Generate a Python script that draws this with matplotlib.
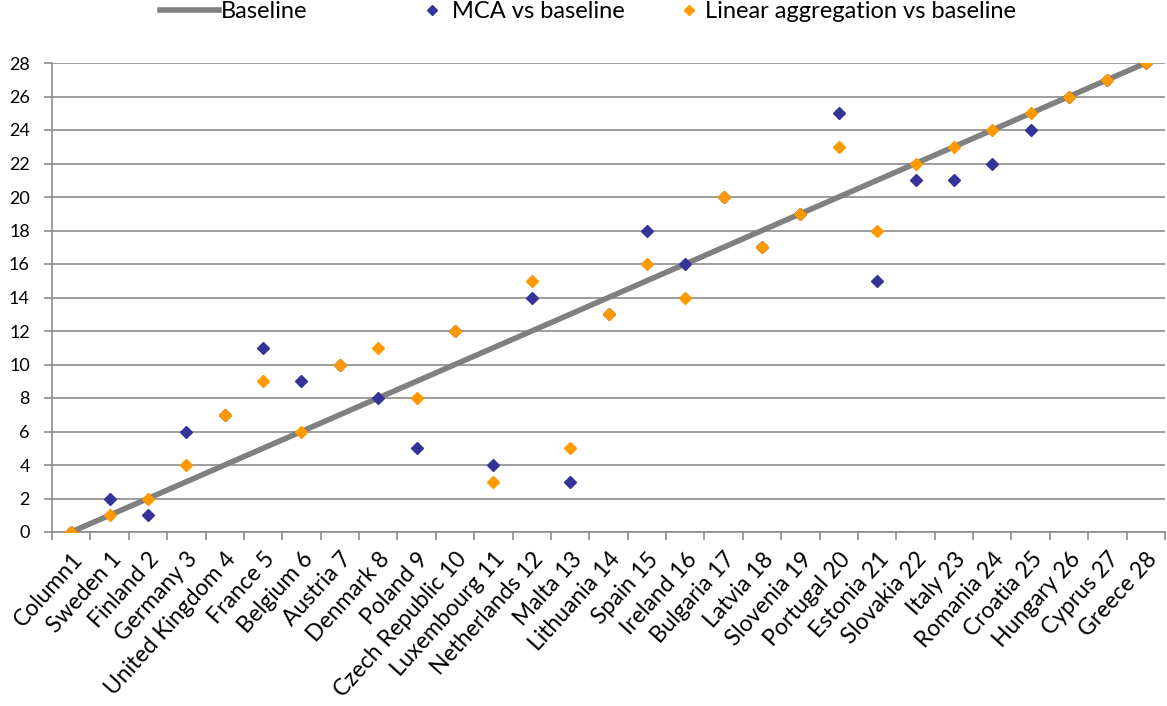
import matplotlib
matplotlib.use("Agg")
import matplotlib.pyplot as plt
from matplotlib.lines import Line2D
import numpy as np

categories = ["Column1", "Sweden 1", "Finland 2", "Germany 3", "United Kingdom 4", "France 5",
              "Belgium 6", "Austria 7", "Denmark 8", "Poland 9", "Czech Republic 10",
              "Luxembourg 11", "Netherlands 12", "Malta 13", "Lithuania 14", "Spain 15",
              "Ireland 16", "Bulgaria 17", "Latvia 18", "Slovenia 19", "Portugal 20",
              "Estonia 21", "Slovakia 22", "Italy 23", "Romania 24", "Croatia 25",
              "Hungary 26", "Cyprus 27", "Greece 28"]
baseline = [0, 1, 2, 3, 4, 5, 6, 7, 8, 9, 10, 11, 12, 13, 14, 15, 16, 17, 18, 19, 20,
            21, 22, 23, 24, 25, 26, 27, 28]
mca = [0, 2, 1, 6, 7, 11, 9, 10, 8, 5, 12, 4, 14, 3, 13, 18, 16, 20, 17, 19, 25,
       15, 21, 21, 22, 24, 26, 27, 28]
linear = [0, 1, 2, 4, 7, 9, 6, 10, 11, 8, 12, 3, 15, 5, 13, 16, 14, 20, 17, 19, 23,
          18, 22, 23, 24, 25, 26, 27, 28]
yticks = list(range(0, 29, 2))

plt.rcParams['font.family'] = ['Lato', 'DejaVu Sans']

W, H = 1167, 706
fig = plt.figure(figsize=(W / 100, H / 100), dpi=100)
ax = fig.add_axes([52/W, 1-532/H, (1165-52)/W, (532-63)/H])

x = np.arange(len(categories))
grey = '#808080'
navy = '#333399'
orange = '#FF9900'
axcol = '#8c8c8c'

ax.plot(x, baseline, color=grey, lw=4, solid_capstyle='butt', zorder=3)
ax.plot(x, mca, ls='none', marker='D', ms=6.3, color=navy, zorder=4)
ax.plot(x, linear, ls='none', marker='D', ms=6.3, color=orange, zorder=5)

ax.set_xlim(-0.5, len(categories) - 0.5)
ax.set_ylim(0, 28)
ax.set_yticks(yticks)
ax.set_yticklabels([str(v) for v in yticks], fontsize=13)
ax.grid(axis='y', color=axcol, lw=1.2, zorder=0)
ax.set_axisbelow(True)

ax.set_xticks(x)
ax.set_xticks(np.arange(len(categories) + 1) - 0.5, minor=True)
ax.tick_params(axis='x', which='major', length=0, pad=12)
ax.tick_params(axis='x', which='minor', length=6, color=axcol, width=1.2)
ax.tick_params(axis='y', length=6, color=axcol, width=1.2, pad=10)
ax.set_xticklabels(categories, rotation=48, ha='right', rotation_mode='anchor',
                   fontsize=16.5)

for s in ['top', 'right']:
    ax.spines[s].set_visible(False)
for s in ['left', 'bottom']:
    ax.spines[s].set_color(axcol)
    ax.spines[s].set_linewidth(1.2)

# legend entries placed individually
lfs = 17
ycen = 1 - 12 / H
fig.legend([Line2D([0], [0], color=grey, lw=4)], ["Baseline"],
           loc='center left', bbox_to_anchor=(160 / W, ycen), frameon=False,
           fontsize=lfs, handlelength=2.5, handletextpad=0.08, borderpad=0,
           borderaxespad=0)
fig.legend([Line2D([0], [0], ls='none', marker='D', ms=5, color=navy)], ["MCA vs baseline"],
           loc='center left', bbox_to_anchor=(420 / W, ycen), frameon=False,
           fontsize=lfs, handlelength=1.0, handletextpad=0.35, borderpad=0,
           borderaxespad=0)
fig.legend([Line2D([0], [0], ls='none', marker='D', ms=5, color=orange)],
           ["Linear aggregation vs baseline"],
           loc='center left', bbox_to_anchor=(677 / W, ycen), frameon=False,
           fontsize=lfs, handlelength=1.0, handletextpad=0.2, borderpad=0,
           borderaxespad=0)

fig.savefig('out.png', dpi=100)
